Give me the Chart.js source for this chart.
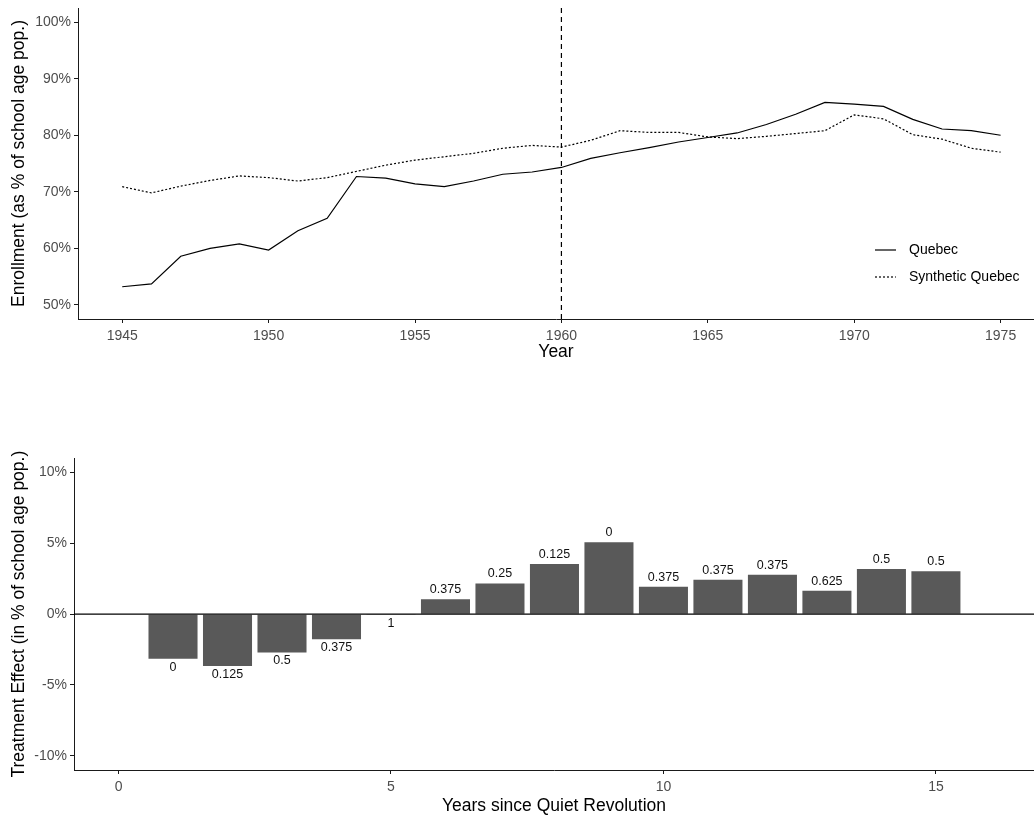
<!DOCTYPE html>
<html><head><meta charset="utf-8">
<script src="https://cdn.jsdelivr.net/npm/chart.js@4.4.1/dist/chart.umd.min.js"></script>
<style>
html,body{margin:0;padding:0;background:#fff;}
#wrap{position:relative;width:1034px;height:817px;overflow:hidden;}
#c1{position:absolute;left:0;top:0;}
#c2{position:absolute;left:0;top:400px;}
</style></head><body>
<div id="wrap"><canvas id="c1" width="1034" height="370"></canvas><canvas id="c2" width="1034" height="417"></canvas></div>
<script>
// ---- data ----
const years = [1945,1946,1947,1948,1949,1950,1951,1952,1953,1954,1955,1956,1957,1958,1959,1960,1961,1962,1963,1964,1965,1966,1967,1968,1969,1970,1971,1972,1973,1974,1975];
const quebec = [53.2,53.7,58.6,60.0,60.8,59.7,63.1,65.3,72.7,72.4,71.4,70.9,71.9,73.1,73.5,74.3,75.9,76.9,77.8,78.8,79.6,80.4,81.9,83.7,85.8,85.5,85.1,82.8,81.1,80.8,80.0];
const synthetic = [70.9,69.8,71.0,72.0,72.8,72.5,71.9,72.5,73.6,74.7,75.6,76.2,76.8,77.7,78.2,77.9,79.1,80.8,80.5,80.5,79.7,79.4,79.8,80.3,80.8,83.6,82.9,80.1,79.3,77.7,77.0];
const seriesNames = ['Quebec','Synthetic Quebec'];
const treatmentYear = 1960;
const enrollTicks = [50,60,70,80,90,100];
const yearTicks = [1945,1950,1955,1960,1965,1970,1975];

const effectYears = [1,2,3,4,5,6,7,8,9,10,11,12,13,14,15];
const effectValues = [-3.14,-3.66,-2.71,-1.77,-0.03,1.06,2.17,3.54,5.07,1.93,2.43,2.78,1.65,3.18,3.02];
const effectLabels = ['0','0.125','0.5','0.375','1','0.375','0.25','0.125','0','0.375','0.375','0.375','0.625','0.5','0.5'];
const effectTicks = [-10,-5,0,5,10];
const sinceTicks = [0,5,10,15];

// ---- axis ranges ----
const topX = {min:1943.49, max:1976.14};
const topY = {min:47.5, max:102.5};
const botX = {min:-0.817, max:16.8};
const botY = {min:-11, max:11};

const FONT = '"Liberation Sans", Arial, sans-serif';
const tickFont = {family: FONT, size: 14};
const titleFont = {family: FONT, size: 17.5};
const tickColor = '#4d4d4d';
const axisColor = '#1a1a1a';

function zeroPad(s){ s.paddingTop=0; s.paddingBottom=0; s.paddingLeft=0; s.paddingRight=0; }

const legendPlugin = {
  id: 'ggLegend',
  afterDraw(chart) {
    const ctx = chart.ctx;
    const items = chart.data.datasets.filter(d => d.inLegend);
    items.forEach((d, i) => {
      const y = 250 + i * 27;
      ctx.save();
      ctx.strokeStyle = d.borderColor;
      ctx.lineWidth = d.borderWidth;
      ctx.setLineDash(d.borderDash || []);
      ctx.beginPath(); ctx.moveTo(875, y); ctx.lineTo(896, y); ctx.stroke();
      ctx.setLineDash([]);
      ctx.fillStyle = '#000';
      ctx.font = '14px ' + FONT;
      ctx.textBaseline = 'middle';
      ctx.fillText(d.label, 909, y);
      ctx.restore();
    });
  }
};

new Chart(document.getElementById('c1'), {
  type: 'line',
  data: {
    datasets: [
      {label: seriesNames[0], inLegend: true, data: years.map((y,i)=>({x:y, y:quebec[i]})), borderColor:'#000', borderWidth:1.2, pointRadius:0, tension:0},
      {label: seriesNames[1], inLegend: true, data: years.map((y,i)=>({x:y, y:synthetic[i]})), borderColor:'#000', borderWidth:1.2, borderDash:[2,2], pointRadius:0, tension:0},
      {label: 'treatment', data: [{x:treatmentYear, y:topY.min},{x:treatmentYear, y:topY.max}], borderColor:'#000', borderWidth:1.2, borderDash:[5,4], pointRadius:0}
    ]
  },
  options: {
    responsive:false, animation:false,
    layout:{padding:{top:8,left:0,right:0,bottom:0}},
    plugins:{legend:{display:false}, tooltip:{enabled:false}},
    scales:{
      x:{type:'linear', min:topX.min, max:topX.max, offset:false,
         afterBuildTicks: s => { s.ticks = yearTicks.map(v=>({value:v})); },
         afterFit: s => { s.height = 51; zeroPad(s); },
         ticks:{font:tickFont, color:tickColor, padding:5, maxRotation:0, autoSkip:false, callback:v=>String(v)},
         grid:{drawOnChartArea:false, drawTicks:true, tickLength:4, color:axisColor, offset:false},
         border:{display:true, color:axisColor, width:1},
         title:{display:true, text:'Year', font:titleFont, color:'#000', padding:{top:0,bottom:7.5}}},
      y:{type:'linear', min:topY.min, max:topY.max,
         afterBuildTicks: s => { s.ticks = enrollTicks.map(v=>({value:v})); },
         afterFit: s => { s.width = 78; zeroPad(s); },
         ticks:{font:tickFont, color:tickColor, padding:3, callback:v=>v+'%'},
         grid:{drawOnChartArea:false, drawTicks:true, tickLength:4, color:axisColor},
         border:{display:true, color:axisColor, width:1},
         title:{display:true, text:'Enrollment (as % of school age pop.)', font:titleFont, color:'#000', padding:{top:8.5,bottom:0}}}
    }
  },
  plugins:[legendPlugin]
});

const barLabelPlugin = {
  id: 'barLabels',
  afterDatasetsDraw(chart) {
    const ctx = chart.ctx;
    const meta = chart.getDatasetMeta(1);
    ctx.save();
    ctx.fillStyle = '#111';
    ctx.font = '12.5px ' + FONT;
    ctx.textAlign = 'center';
    ctx.textBaseline = 'middle';
    meta.data.forEach((bar, i) => {
      const v = effectValues[i];
      const y = v >= 0 ? bar.y - 9.5 : bar.y + 8.5;
      ctx.fillText(effectLabels[i], bar.x, y);
    });
    ctx.restore();
  }
};

new Chart(document.getElementById('c2'), {
  type: 'bar',
  data: {
    datasets: [
      {type:'line', label:'zero', data:[{x:botX.min,y:0},{x:botX.max,y:0}], borderColor:'#000', borderWidth:1.1, pointRadius:0},
      {type:'bar', label:'Treatment Effect', data: effectYears.map((x,i)=>({x:x, y:effectValues[i]})), backgroundColor:'#595959', borderWidth:0, barPercentage:0.9, categoryPercentage:1}
    ]
  },
  options: {
    responsive:false, animation:false,
    layout:{padding:{top:58.3,left:0,right:0,bottom:0}},
    plugins:{legend:{display:false}, tooltip:{enabled:false}},
    scales:{
      x:{type:'linear', min:botX.min, max:botX.max, offset:false,
         afterBuildTicks: s => { s.ticks = sinceTicks.map(v=>({value:v})); },
         afterFit: s => { s.height = 47; zeroPad(s); },
         ticks:{font:tickFont, color:tickColor, padding:5, maxRotation:0, autoSkip:false, callback:v=>String(v)},
         grid:{drawOnChartArea:false, drawTicks:true, tickLength:4, color:axisColor, offset:false},
         border:{display:true, color:axisColor, width:1},
         title:{display:true, text:'Years since Quiet Revolution', font:titleFont, color:'#000', padding:{top:0,bottom:0.5}}},
      y:{type:'linear', min:botY.min, max:botY.max,
         afterBuildTicks: s => { s.ticks = effectTicks.map(v=>({value:v})); },
         afterFit: s => { s.width = 74; zeroPad(s); },
         ticks:{font:tickFont, color:tickColor, padding:3, callback:v=>v+'%'},
         grid:{drawOnChartArea:false, drawTicks:true, tickLength:4, color:axisColor},
         border:{display:true, color:axisColor, width:1},
         title:{display:true, text:'Treatment Effect (in % of school age pop.)', font:titleFont, color:'#000', padding:{top:8.5,bottom:0}}}
    }
  },
  plugins:[barLabelPlugin]
});
</script>
</body></html>
